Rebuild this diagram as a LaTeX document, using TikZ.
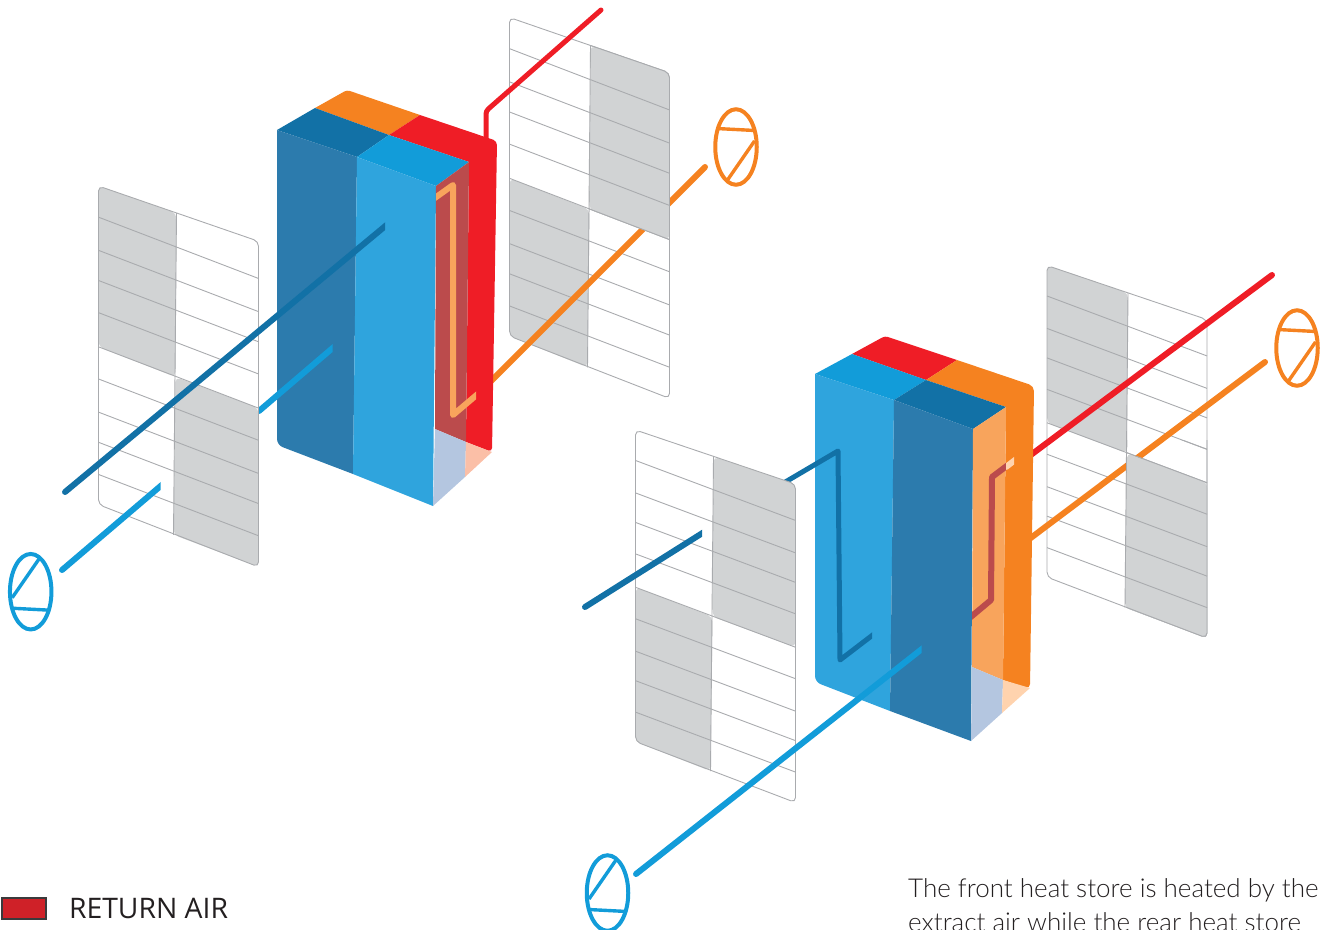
\documentclass[tikz,border=0pt]{standalone}
\usepackage{fontspec}
\setmainfont{Open Sans}
\newfontfamily\notefont{Lato Light}
\usetikzlibrary{positioning,shapes.geometric}

\definecolor{deepblue}{HTML}{1271A6}
\definecolor{deepface}{HTML}{2C7BAD}
\definecolor{skyblue}{HTML}{129CD9}
\definecolor{skyface}{HTML}{2FA4DD}
\definecolor{hotred}{HTML}{EF1D26}
\definecolor{warmorange}{HTML}{F58220}
\definecolor{softorange}{HTML}{F8A45C}
\definecolor{maroon}{HTML}{BB4B4C}
\definecolor{lavender}{HTML}{B4C6E0}
\definecolor{peach}{HTML}{FBBFA7}
\definecolor{paleorange}{HTML}{FFD3AE}
\definecolor{panelgray}{HTML}{D1D3D4}
\definecolor{panelline}{HTML}{A9ABAE}
\definecolor{legendfill}{HTML}{CF2128}
\definecolor{legendedge}{HTML}{3A3A3C}
\definecolor{inktext}{HTML}{231F20}

\newcommand{\gridpanel}[5]{%
  \begin{scope}[shift={(#1,#2)},yscale=#3]
    \coordinate (midtop) at ({78+#5},{27+#5/3});
    \coordinate (midmid) at ({77+#5},{190+#5/3});
    \coordinate (midlow) at ({75+#5},{347+#5/3});
    \ifnum#4=0
      \fill[panelgray,rounded corners=5] (0,0) -- (midtop) -- (midmid) -- (0,160) -- cycle;
      \fill[panelgray,rounded corners=5] (midmid) -- (160,221) -- (160,379) -- (midlow) -- cycle;
    \else
      \fill[panelgray,rounded corners=5] (midtop) -- (160,55) -- (160,221) -- (midmid) -- cycle;
      \fill[panelgray,rounded corners=5] (0,160) -- (midmid) -- (midlow) -- (0,317) -- cycle;
    \fi
    \foreach \row in {31,64,94,126,160,192,225,255,287}
      \draw[gridline] (0,\row) -- (160,\row+61);
    \draw[gridline] (midtop) -- (midlow);
    \draw[gridline,rounded corners=5] (0,0) -- (160,55) -- (160,379) -- (0,317) -- cycle;
  \end{scope}}

\newcommand{\fanwheel}[5]{%
  \node[fan,draw=#4,rotate=#5] (#1) at (#2,#3) {};
  \begin{scope}[shift={(#2,#3)},rotate=#5]
    \draw[fanbar,#4] (-18.5,6) -- (8.5,-33);
    \draw[fanbar,#4] (-19,16.5) -- (19.5,18.5);
  \end{scope}}

\newcommand{\cutpipe}[4]{%
  \begin{scope}
    \clip (#1,0) rectangle (#2,929);
    \draw[pipe,#3] #4;
  \end{scope}}

\begin{document}
\begin{tikzpicture}[
  x=1pt, y=-1pt,
  gridline/.style={draw=panelline, line width=0.9pt},
  pipe/.style={line width=6pt, line cap=round, line join=round},
  fan/.style={ellipse, line width=4pt, minimum width=41.5pt, minimum height=75.5pt, inner sep=0pt},
  fanbar/.style={line width=3.4pt},
  legendbox/.style={draw=legendedge, fill=legendfill, line width=1.8pt, minimum width=44pt, minimum height=21pt, inner sep=0pt},
  legendtext/.style={font=\fontsize{28.3}{28.3}\selectfont, text=inktext, inner sep=0pt},
  note/.style={font=\notefont\fontsize{26}{26}\selectfont, text=inktext, inner sep=0pt, anchor=base west}
]
\useasboundingbox (0,0) rectangle (1327,929);
\clip (0,0) rectangle (1327,929);

\coordinate (rearlinkend) at (770,491);
\coordinate (rearlinkbendA) at (838,451);
\coordinate (rearlinkbendB) at (840,660);
\coordinate (rearlinkstop) at (874,634);
\draw[pipe,deepblue,line width=5pt] (rearlinkend) -- (rearlinkbendA);

\gridpanel{98.5}{186}{1.005}{0}{0}
\gridpanel{509.5}{17.5}{1.005}{1}{3}
\gridpanel{635.5}{430}{0.983}{1}{0}
\gridpanel{1047}{265.5}{0.983}{0}{3}

\coordinate (redoutA) at (601,10);
\coordinate (redbendA) at (486,111);
\coordinate (redboxA) at (486,140);
\coordinate (orangeoutA) at (705,167);
\coordinate (orangeboxA) at (480,392);
\coordinate (redoutB) at (1272,275);
\coordinate (redboxB) at (1020,463);
\coordinate (orangeoutB) at (1265,362);
\coordinate (orangeboxB) at (1020,546);
\draw[pipe,hotred,line width=5pt,rounded corners=3] (redoutA) -- (redbendA) -- (redboxA);
\draw[pipe,warmorange] (orangeoutA) -- (orangeboxA);
\draw[pipe,hotred] (redoutB) -- (redboxB);
\draw[pipe,warmorange] (orangeoutB) -- (orangeboxB);

\begin{scope}
  \clip (591,40) -- (675,70) -- (675,243) -- (589,212) -- cycle;
  \gridpanel{509.5}{17.5}{1.005}{1}{3}
\end{scope}
\begin{scope}
  \clip (1126,440) rectangle (1212,645);
  \gridpanel{1047}{265.5}{0.983}{0}{3}
\end{scope}

\fill[warmorange] (315,108) [rounded corners=3] -- (347,90) [sharp corners] -- (420,115) -- (389,135) -- cycle;
\fill[hotred] (420,115) [rounded corners=4] -- (497,141) -- (492,452) [sharp corners] -- (466,442) -- (469,162) -- (389,135) -- cycle;
\fill[deepblue] (277,130) -- (315,108) -- (389,135) -- (357,157) -- cycle;
\fill[skyblue] (389,135) -- (469,162) -- (436,186) -- (357,157) -- cycle;
\fill[deepface] (277,130) -- (357,157) -- (353,474) [rounded corners=6] -- (277,445) [sharp corners] -- cycle;
\fill[skyface] (357,157) -- (436,186) -- (433,506) -- (353,474) -- cycle;
\fill[maroon] (436,186) -- (469,162) -- (466,442) -- (435,429) -- cycle;
\fill[lavender] (435,429) -- (466,442) -- (465,477) -- (433,506) -- cycle;
\fill[peach] (466,442) -- (492,452) -- (465,477) -- cycle;

\fill[hotred] (852,354) [rounded corners=3] -- (885,336) [sharp corners] -- (957,360) -- (926,380) -- cycle;
\fill[warmorange] (957,360) [rounded corners=5] -- (1034,386) -- (1030,689) [sharp corners] -- (1003,680) -- (1006,407) -- (926,380) -- cycle;
\fill[skyblue] (815,374) -- (852,354) -- (926,380) -- (894,400) -- cycle;
\fill[deepblue] (926,380) -- (1006,407) -- (973,429) -- (894,400) -- cycle;
\fill[skyface] (815,374) -- (894,400) -- (890,711) [rounded corners=6] -- (815,682) [sharp corners] -- cycle;
\fill[deepface] (894,400) -- (973,429) -- (971,741) -- (890,711) -- cycle;
\fill[softorange] (973,429) -- (1006,407) -- (1003,680) -- (972,667) -- cycle;
\fill[lavender] (972,667) -- (1003,680) -- (1002,713) -- (971,741) -- cycle;
\fill[paleorange] (1003,680) -- (1030,688) -- (1002,713) -- cycle;

\coordinate (returnout) at (65,492);
\coordinate (returnstop) at (395,218);
\coordinate (supplyout) at (62,570);
\coordinate (supplystop) at (170,478);
\coordinate (stubstart) at (259,411);
\coordinate (stubstop) at (342,340);
\cutpipe{0}{385}{deepblue}{(returnout) -- (returnstop)}
\cutpipe{0}{160.5}{skyblue}{(supplyout) -- (supplystop)}
\cutpipe{259}{332.5}{skyblue}{(stubstart) -- (stubstop)}

\coordinate (heatstart) at (425,205);
\coordinate (heatbendA) at (453,185);
\coordinate (heatbendB) at (453,415);
\coordinate (heatstop) at (486,387);
\cutpipe{436}{476}{softorange}{(heatstart) -- (heatbendA) -- (heatbendB) -- (heatstop)}

\coordinate (frontout) at (585,607);
\coordinate (frontstop) at (712,527);
\cutpipe{0}{702}{deepblue}{(frontout) -- (frontstop)}
\coordinate (freshout) at (636,874);
\coordinate (freshstop) at (932,641);
\cutpipe{0}{921.5}{skyblue}{(freshout) -- (freshstop)}
\cutpipe{815}{872}{deepblue,line width=5pt}{(rearlinkend) -- (rearlinkbendA) -- (rearlinkbendB) -- (rearlinkstop)}

\coordinate (coolstart) at (960,626);
\coordinate (coolbendA) at (991,600);
\coordinate (coolbendB) at (992,477);
\coordinate (coolstop) at (1006,467);
\coordinate (coolend) at (1024,453);
\cutpipe{972}{1006}{maroon}{(coolstart) -- (coolbendA) -- (coolbendB) -- (coolend)}
\cutpipe{1006}{1014}{paleorange}{(coolstop) -- (coolend)}

\fanwheel{fansupplyA}{30.7}{591.7}{skyblue}{0}
\fanwheel{fanexhaustA}{736}{147}{warmorange}{180}
\fanwheel{fansupplyB}{607.5}{893}{skyblue}{0}
\fanwheel{fanexhaustB}{1297}{348}{warmorange}{180}

\node[legendbox] (legendswatch) at (24,908.5) {};
\node[legendtext,right=22pt of legendswatch] (legendlabel) {RETURN AIR};
\node[note] (noteone) at (908,897) {The front heat store is heated by the};
\node[note] (notetwo) at (908,931) {extract air while the rear heat store};
\end{tikzpicture}
\end{document}
